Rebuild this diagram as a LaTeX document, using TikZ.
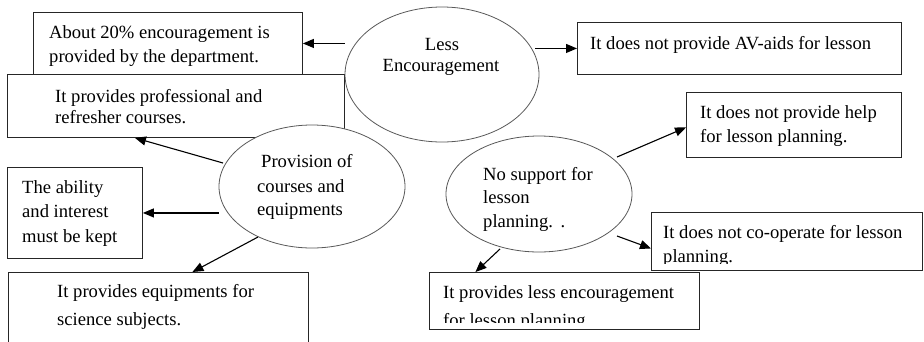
\documentclass[tikz,border=0pt]{standalone}
\usepackage{fontspec}
\setmainfont{Liberation Serif}
\usetikzlibrary{shapes.geometric,arrows.meta,calc}
\begin{document}
\begin{tikzpicture}[x=1pt,y=-1pt,
  box/.style={draw=black!85,line width=0.9pt,fill=white,rectangle,inner sep=0pt,anchor=north west},
  oval/.style={draw=black!65,line width=0.8pt,fill=white,ellipse,inner sep=0pt},
  lbl/.style={anchor=base west,inner sep=0pt,font=\fontsize{18.6}{24}\selectfont},
  clbl/.style={anchor=base,inner sep=0pt,font=\fontsize{18.6}{24}\selectfont},
  arr/.style={-{Triangle[length=11pt,width=9pt]},line width=1.1pt,black}]
\clip (0,0) rectangle (924,341);
\fill[white] (0,0) rectangle (924,341);
% boxes and ovals
\node[box,minimum width=269pt,minimum height=62pt] (b1) at (33,12) {};
\node[box,minimum width=337pt,minimum height=63pt] (b2) at (7,74) {};
\node[oval,minimum width=194pt,minimum height=135pt] (e1) at (442,74.5) {};
\node[oval,minimum width=186pt,minimum height=123pt] (e2) at (312,186.5) {};
\node[oval,minimum width=186pt,minimum height=116pt] (e3) at (539,194) {};
\node[box,minimum width=324pt,minimum height=52pt] (b3) at (577,22) {};
\node[box,minimum width=215pt,minimum height=65pt] (b4) at (686,92) {};
\node[box,minimum width=135pt,minimum height=91pt] (b5) at (7,167) {};
\node[box,minimum width=300pt,minimum height=100pt] (b6) at (8,272) {};
\node[box,minimum width=271pt,minimum height=58pt] (b7) at (651,212) {};
\node[box,minimum width=270pt,minimum height=57pt] (b8) at (429,272) {};
% texts
\node[lbl] (t1a) at (49,38) {About 20\% encouragement is};
\node[lbl] (t1b) at (49,62) {provided by the department.};
\node[lbl] (t2a) at (55,102) {It provides professional and};
\node[lbl] (t2b) at (55,123) {refresher courses.};
\node[clbl] (t3a) at (442,50) {Less};
\node[clbl] (t3b) at (441,71) {Encouragement};
\node[lbl] (t4) at (590,49) {It does not provide AV-aids for lesson};
\node[lbl] (t5a) at (700,118) {It does not provide help};
\node[lbl] (t5b) at (700,142) {for lesson planning.};
\node[lbl] (t6a) at (261,167) {Provision of};
\node[lbl] (t6b) at (257,192) {courses and};
\node[lbl] (t6c) at (257,215) {equipments};
\node[lbl] (t7a) at (483,180) {No support for};
\node[lbl] (t7b) at (483,203) {lesson};
\node[lbl] (t7c) at (483,227) {planning.\ \,.};
\node[lbl] (t8a) at (22,193) {The ability};
\node[lbl] (t8b) at (22,217) {and interest};
\node[lbl] (t8c) at (22,242) {must be kept};
\node[lbl] (t9a) at (57,297) {It provides equipments for};
\node[lbl] (t9b) at (57,325) {science subjects.};
\node[lbl] (t10a) at (663,238) {It does not co-operate for lesson};
\begin{scope}
\clip (651,212) rectangle (922,263.5);
\node[lbl] (t10b) at (663,262) {planning.};
\end{scope}
\node[lbl] (t11a) at (443,298) {It provides less encouragement};
\begin{scope}
\clip (429,272) rectangle (699,322);
\node[lbl] (t11b) at (443,326) {for lesson planning};
\end{scope}
% arrows
\draw[arr] (e1.west |- b1.east) -- (b1.east);
\draw[arr] ($(e1.east |- b3.west)+(-4,0)$) -- (b3.west);
\draw[arr] ($(e3.center)+(78,-37)$) -- ($(b4.west)+(0,2.5)$);
\draw[arr] ($(e2.center)+(-89,-23.5)$) -- ($(b2.south)+(-41,0)$);
\draw[arr] (e2.west |- b5.east) -- (b5.east);
\draw[arr] ($(e2.center)+(-54,50.5)$) -- ($(b6.north)+(34,0)$);
\draw[arr] ($(e3.center)+(78,42)$) -- ($(b7.west)+(0,7)$);
\draw[arr] ($(e3.center)+(-39,55)$) -- ($(b8.north)+(-89,0)$);
\end{tikzpicture}
\end{document}
